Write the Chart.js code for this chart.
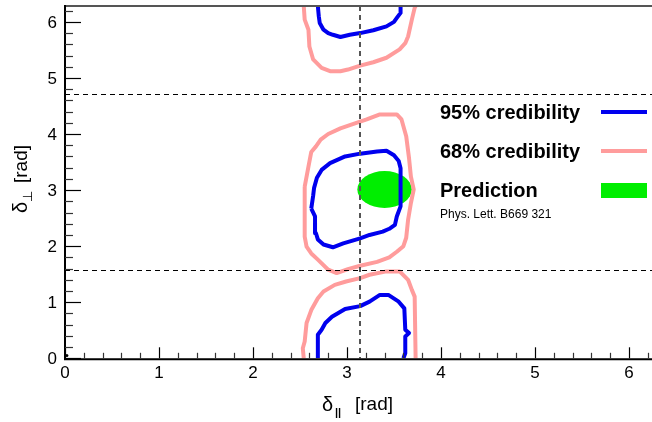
<!DOCTYPE html>
<html>
<head>
<meta charset="utf-8">
<script src="https://cdn.jsdelivr.net/npm/chart.js@4.4.1/dist/chart.umd.min.js"></script>
<style>
html,body{margin:0;padding:0;background:#fff;overflow:hidden;width:652px;height:422px;}
canvas{display:block;}
</style>
</head>
<body>
<canvas id="c" width="660" height="422"></canvas>
<script>
// ---- data (radians) ----
const xTickValues = [0, 1, 2, 3, 4, 5, 6];
const yTickValues = [0, 1, 2, 3, 4, 5, 6];
const xRange = [0, 2 * Math.PI];
const yRange = [0, 2 * Math.PI];
const horizontalRefs = [Math.PI / 2, 3 * Math.PI / 2];
const verticalRefs = [Math.PI];

const blueTop = [[2.69,6.28],[2.70,6.10],[2.71,5.98],[2.75,5.86],[2.80,5.80],[2.85,5.77],[2.93,5.73],[3.03,5.77],[3.14,5.80],[3.28,5.85],[3.42,5.92],[3.50,6.00],[3.53,6.07],[3.57,6.16],[3.57,6.28]];
const pinkTop = [[2.54,6.28],[2.55,6.04],[2.59,5.86],[2.60,5.56],[2.64,5.33],[2.73,5.18],[2.82,5.12],[2.93,5.12],[3.01,5.15],[3.14,5.22],[3.28,5.28],[3.42,5.36],[3.56,5.51],[3.62,5.62],[3.65,5.74],[3.69,6.04],[3.72,6.25],[3.73,6.28]];
const blueMid = [[2.62,2.67],[2.64,2.90],[2.65,3.04],[2.68,3.22],[2.73,3.36],[2.82,3.48],[2.98,3.60],[3.14,3.65],[3.32,3.69],[3.42,3.70],[3.50,3.62],[3.55,3.52],[3.57,3.39],[3.57,3.01],[3.57,2.71],[3.53,2.53],[3.51,2.38],[3.45,2.31],[3.38,2.26],[3.24,2.20],[3.14,2.14],[2.96,2.05],[2.85,1.98],[2.75,2.03],[2.69,2.12],[2.67,2.23],[2.66,2.53],[2.62,2.67]];
const pinkMid = [[2.55,3.06],[2.55,2.17],[2.57,1.99],[2.62,1.87],[2.69,1.76],[2.80,1.58],[2.89,1.52],[3.01,1.59],[3.14,1.65],[3.32,1.72],[3.45,1.80],[3.53,1.90],[3.60,2.00],[3.63,2.15],[3.65,2.47],[3.68,2.77],[3.71,3.01],[3.68,3.24],[3.66,3.57],[3.63,3.96],[3.58,4.26],[3.53,4.35],[3.35,4.35],[3.21,4.26],[3.10,4.20],[2.93,4.10],[2.80,4.00],[2.72,3.90],[2.67,3.78],[2.62,3.68],[2.59,3.42],[2.55,3.06]];
const blueBot = [[2.69,0],[2.69,0.42],[2.73,0.51],[2.77,0.63],[2.84,0.74],[2.98,0.88],[3.14,0.93],[3.24,1.01],[3.35,1.13],[3.44,1.13],[3.55,1.01],[3.61,0.89],[3.62,0.51],[3.66,0.45],[3.62,0.39],[3.62,0.09],[3.60,0]];
const pinkBot = [[2.54,0],[2.53,0.18],[2.55,0.30],[2.57,0.63],[2.62,0.86],[2.69,1.07],[2.75,1.19],[2.87,1.31],[2.99,1.37],[3.14,1.43],[3.24,1.49],[3.42,1.55],[3.56,1.55],[3.65,1.40],[3.69,1.22],[3.72,1.10],[3.73,0]];
const cornerSpeck = [[0.02,0.05]];

const predictionCenter = [3.40, 3.01];
const predictionRadii = [0.29, 0.33];

const legendLabels = ['95% credibility', '68% credibility', 'Prediction'];
const legendNote = 'Phys. Lett. B669 321';

const BLUE = '#0000ee';
const PINK = '#ff9c9c';
const GREEN = '#00ee00';

const toXY = a => a.map(p => ({x: p[0], y: p[1]}));
const lineDs = (d, c) => ({data: toXY(d), showLine: true, borderColor: c, borderWidth: 4, pointRadius: 0, tension: 0, fill: false, borderJoinStyle: 'round', borderCapStyle: 'butt'});

const FONT = '"Liberation Sans", Arial, Helvetica, sans-serif';

const frame = {
  id: 'frame',
  beforeDatasetsDraw(chart) {
    const {ctx} = chart;
    const xs = chart.scales.x, ys = chart.scales.y;
    const cx = xs.getPixelForValue(predictionCenter[0]);
    const cy = ys.getPixelForValue(predictionCenter[1]);
    const rx = Math.abs(xs.getPixelForValue(predictionCenter[0] + predictionRadii[0]) - cx);
    const ry = Math.abs(ys.getPixelForValue(predictionCenter[1] + predictionRadii[1]) - cy);
    ctx.save();
    ctx.fillStyle = GREEN;
    ctx.beginPath();
    ctx.ellipse(cx, cy, rx, ry, 0, 0, 2 * Math.PI);
    ctx.fill();
    ctx.restore();
  },
  afterDatasetsDraw(chart) {
    const {ctx, chartArea: a} = chart;
    const xs = chart.scales.x, ys = chart.scales.y;
    ctx.save();
    ctx.strokeStyle = '#000';
    ctx.lineWidth = 1;
    ctx.setLineDash([5, 4]);
    horizontalRefs.forEach(v => {
      const y = Math.round(ys.getPixelForValue(v)) + 0.5;
      ctx.beginPath(); ctx.moveTo(a.left, y); ctx.lineTo(a.right, y); ctx.stroke();
    });
    ctx.strokeStyle = '#555';
    ctx.lineWidth = 2;
    ctx.setLineDash([5, 4]);
    verticalRefs.forEach(v => {
      const x = Math.round(xs.getPixelForValue(v));
      ctx.beginPath(); ctx.moveTo(x, a.top); ctx.lineTo(x, a.bottom); ctx.stroke();
    });
    ctx.setLineDash([]);

    ctx.strokeStyle = '#555';
    ctx.lineWidth = 2;
    ctx.beginPath(); ctx.moveTo(a.left, a.top); ctx.lineTo(a.right, a.top); ctx.stroke();
    ctx.strokeStyle = '#000';
    ctx.beginPath(); ctx.moveTo(a.left, a.top - 1); ctx.lineTo(a.left, a.bottom + 1); ctx.lineTo(a.right, a.bottom + 1); ctx.stroke();

    ctx.lineWidth = 1.2;
    for (let i = 0; i <= 31; i++) {
      const v = i * 0.2;
      if (v > xRange[1]) break;
      const major = i % 5 === 0;
      const x = Math.round(xs.getPixelForValue(v)) + 0.5;
      ctx.strokeStyle = major ? '#000' : '#333';
      ctx.beginPath(); ctx.moveTo(x, a.bottom); ctx.lineTo(x, a.bottom - (major ? 11 : 5.5)); ctx.stroke();
    }
    for (let i = 0; i <= 31; i++) {
      const v = i * 0.2;
      if (v > yRange[1]) break;
      const major = i % 5 === 0;
      const y = Math.round(ys.getPixelForValue(v)) + 0.5;
      ctx.strokeStyle = major ? '#000' : '#333';
      ctx.beginPath(); ctx.moveTo(a.left, y); ctx.lineTo(a.left + (major ? 16 : 8), y); ctx.stroke();
    }

    ctx.fillStyle = '#000';
    ctx.font = '17px ' + FONT;
    ctx.textAlign = 'center'; ctx.textBaseline = 'top';
    xTickValues.forEach(v => ctx.fillText(String(v), xs.getPixelForValue(v), a.bottom + 7));
    ctx.textAlign = 'right'; ctx.textBaseline = 'middle';
    yTickValues.forEach(v => ctx.fillText(String(v), a.left - 8, ys.getPixelForValue(v) + 1));

    ctx.textAlign = 'left'; ctx.textBaseline = 'alphabetic';
    ctx.font = '20px ' + FONT;
    ctx.fillText('δ', 322, 411);
    ctx.font = 'bold 11px ' + FONT;
    ctx.fillText('||', 335, 416);
    ctx.font = '19px ' + FONT;
    ctx.fillText('[rad]', 355, 410);

    ctx.save();
    ctx.translate(27, 213);
    ctx.rotate(-Math.PI / 2);
    ctx.font = '20px ' + FONT;
    ctx.fillText('δ', 0, 0);
    ctx.font = '13px ' + FONT;
    ctx.fillText('⊥', 11, 5);
    ctx.font = '19px ' + FONT;
    ctx.fillText('[rad]', 30, 0);
    ctx.restore();

    ctx.textAlign = 'left'; ctx.textBaseline = 'middle';
    ctx.font = 'bold 20px ' + FONT;
    const ly = [112, 151, 190];
    const colors = [BLUE, PINK];
    legendLabels.forEach((t, i) => ctx.fillText(t, 440, ly[i] + 1));
    ctx.lineWidth = 4;
    colors.forEach((c, i) => {
      ctx.strokeStyle = c;
      ctx.beginPath(); ctx.moveTo(601, ly[i]); ctx.lineTo(647, ly[i]); ctx.stroke();
    });
    ctx.fillStyle = GREEN;
    ctx.fillRect(601, 183, 46, 15);
    ctx.fillStyle = '#000';
    ctx.font = '12px ' + FONT;
    ctx.fillText(legendNote, 440, 215);
    ctx.restore();
  }
};

new Chart(document.getElementById('c'), {
  type: 'scatter',
  data: {
    datasets: [
      lineDs(pinkTop, PINK), lineDs(pinkMid, PINK), lineDs(pinkBot, PINK),
      lineDs(blueTop, BLUE), lineDs(blueMid, BLUE), lineDs(blueBot, BLUE),
      {data: toXY(cornerSpeck), pointRadius: 1.5, pointBackgroundColor: '#000', pointBorderWidth: 0, showLine: false}
    ]
  },
  options: {
    responsive: false,
    devicePixelRatio: 1,
    animation: false,
    layout: {padding: {left: 65, top: 6, right: 4.4, bottom: 63.7}},
    plugins: {legend: {display: false}, tooltip: {enabled: false}},
    scales: {
      x: {type: 'linear', min: xRange[0], max: xRange[1], display: false},
      y: {type: 'linear', min: yRange[0], max: yRange[1], display: false}
    }
  },
  plugins: [frame]
});
</script>
</body>
</html>
